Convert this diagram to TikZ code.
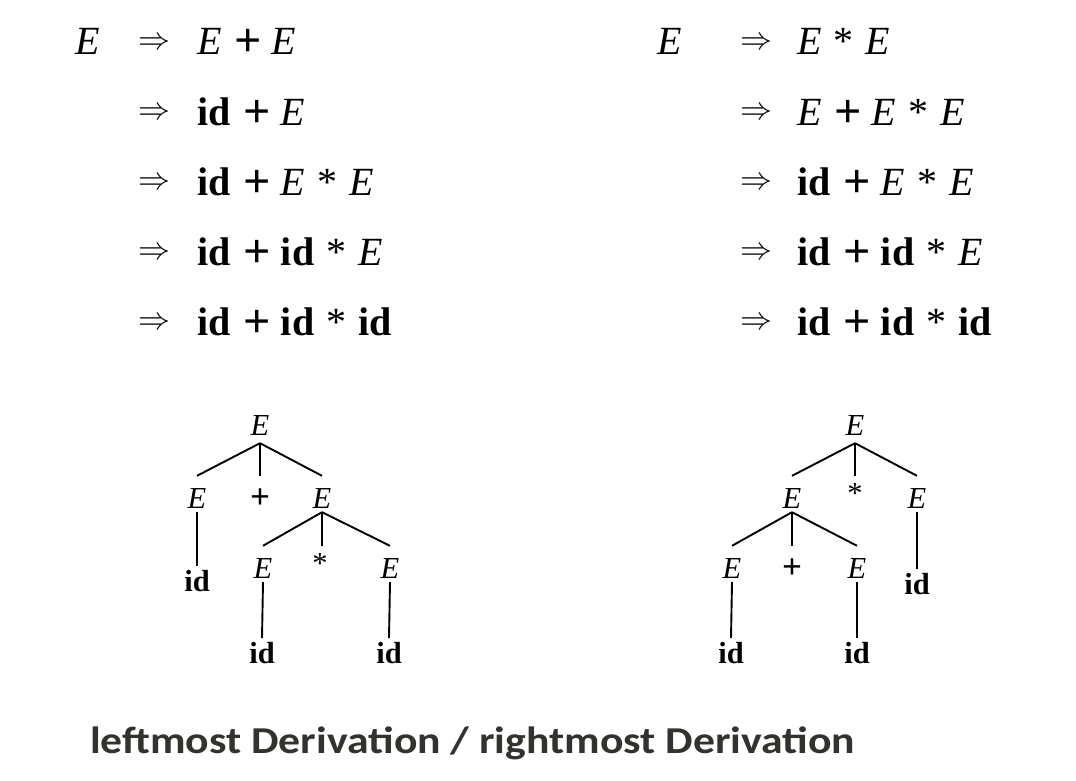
\documentclass[tikz,border=0pt]{standalone}
\usepackage{fontspec}
\setmainfont{Liberation Serif}
\newfontfamily\titlefont{Carlito}
\definecolor{titlegray}{RGB}{50,50,46}
\newcommand{\pl}{\hspace{3pt}\raisebox{-2pt}{\fontsize{48}{48}\selectfont\bfseries +}}
\newcommand{\tpl}{{\fontsize{35}{35}\selectfont\bfseries +}}
\newcommand{\mystar}{\hspace{2pt}*\hspace{2pt}}
\newcommand{\dimp}{\scalebox{3.2}{$\Rightarrow$}}
\begin{document}
\begin{tikzpicture}[x=1pt,y=-1pt,
  der/.style={inner sep=0pt,anchor=base west,font=\fontsize{40}{48}\selectfont},
  arr/.style={inner sep=0pt,anchor=west},
  tn/.style={inner sep=0pt,anchor=center,font=\fontsize{30.5}{36}\selectfont},
  edge/.style={line width=1.9pt,black}]
\useasboundingbox[fill=white] (0,0) rectangle (1076,781);

% ---------- left derivation ----------
\node[der] (lE) at (75,55) {\textit{E}};
\foreach \i/\y in {1/44,2/114,3/184,4/254,5/324}{
  \node[arr] (la\i) at (138,\y) {\dimp};
}
\node[der] (lr1) at (197,55)  {\textit{E} \pl{} \textit{E}};
\node[der] (lr2) at (197,125) {\textbf{id} \pl{} \textit{E}};
\node[der] (lr3) at (197,195) {\textbf{id} \pl{} \textit{E} \mystar{} \textit{E}};
\node[der] (lr4) at (197,265) {\textbf{id} \pl{} \textbf{id} \mystar{} \textit{E}};
\node[der] (lr5) at (197,335) {\textbf{id} \pl{} \textbf{id} \mystar{} \textbf{id}};

% ---------- right derivation ----------
\node[der] (rE) at (657,55) {\textit{E}};
\foreach \i/\y in {1/44,2/114,3/184,4/254,5/324}{
  \node[arr] (ra\i) at (740,\y) {\dimp};
}
\node[der] (rr1) at (797,55)  {\textit{E} \mystar{} \textit{E}};
\node[der] (rr2) at (797,125) {\textit{E} \pl{} \textit{E} \mystar{} \textit{E}};
\node[der] (rr3) at (797,195) {\textbf{id} \pl{} \textit{E} \mystar{} \textit{E}};
\node[der] (rr4) at (797,265) {\textbf{id} \pl{} \textbf{id} \mystar{} \textit{E}};
\node[der] (rr5) at (797,335) {\textbf{id} \pl{} \textbf{id} \mystar{} \textbf{id}};

% ---------- left tree ----------
\node[tn] (L0) at (260,426) {\textit{E}};
\node[tn] (L1) at (197,499) {\textit{E}};
\node[tn] (L2) at (260,499) {\tpl};
\node[tn] (L3) at (322,499) {\textit{E}};
\node[tn] (L1i) at (197,581) {\textbf{id}};
\node[tn] (L4) at (263,569) {\textit{E}};
\node[tn] (L5) at (320,564) {*};
\node[tn] (L6) at (390,569) {\textit{E}};
\node[tn] (L4i) at (262,653) {\textbf{id}};
\node[tn] (L6i) at (389,653) {\textbf{id}};

\coordinate (Lt) at ([yshift=-7pt]L0.south);
\coordinate (Lc) at ([yshift=13pt]L1.north);
\draw[edge] (Lt) -- (Lc);
\draw[edge] (Lt) -- (L2 |- Lc);
\draw[edge] (Lt) -- (L3 |- Lc);
\draw[edge] ([yshift=-3pt]L1.south) -- ([yshift=4pt]L1i.north);
\coordinate (Lt2) at ([yshift=-3pt]L3.south);
\coordinate (Lc2) at ([yshift=13pt]L4.north);
\draw[edge] (Lt2) -- (Lc2);
\draw[edge] (Lt2) -- (L3 |- Lc2);
\draw[edge] (Lt2) -- (L6 |- Lc2);
\draw[edge] ([yshift=-3pt]L4.south) -- ([yshift=4pt]L4i.north);
\draw[edge] ([yshift=-3pt]L6.south) -- ([yshift=4pt]L6i.north);

% ---------- right tree ----------
\node[tn] (R0) at (855,426) {\textit{E}};
\node[tn] (R1) at (792,499) {\textit{E}};
\node[tn] (R2) at (855,494) {*};
\node[tn] (R3) at (917,499) {\textit{E}};
\node[tn] (R3i) at (917,584) {\textbf{id}};
\node[tn] (R4) at (732,569) {\textit{E}};
\node[tn] (R5) at (792,569) {\tpl};
\node[tn] (R6) at (857,569) {\textit{E}};
\node[tn] (R4i) at (731,653) {\textbf{id}};
\node[tn] (R6i) at (857,653) {\textbf{id}};

\coordinate (Rt) at ([yshift=-7pt]R0.south);
\coordinate (Rc) at ([yshift=13pt]R1.north);
\draw[edge] (Rt) -- (Rc);
\draw[edge] (Rt) -- (R2 |- Rc);
\draw[edge] (Rt) -- (R3 |- Rc);
\draw[edge] ([yshift=-3pt]R3.south) -- ([yshift=4pt]R3i.north);
\coordinate (Rt2) at ([yshift=-3pt]R1.south);
\coordinate (Rc2) at ([yshift=13pt]R4.north);
\draw[edge] (Rt2) -- (Rc2);
\draw[edge] (Rt2) -- (R1 |- Rc2);
\draw[edge] (Rt2) -- (R6 |- Rc2);
\draw[edge] ([yshift=-3pt]R4.south) -- ([yshift=4pt]R4i.north);
\draw[edge] ([yshift=-3pt]R6.south) -- ([yshift=4pt]R6i.north);

% ---------- caption ----------
\node[inner sep=0pt,anchor=base west,text=titlegray,font=\titlefont\bfseries\fontsize{38}{44}\selectfont] (cap) at (90,753) {\scalebox{1.15}[1]{leftmost Derivation / rightmost Derivation}};

% cropped icon edge at bottom left
\draw[titlegray,line width=2pt] (8,786) arc[start angle=150,end angle=30,radius=12];
\end{tikzpicture}
\end{document}
